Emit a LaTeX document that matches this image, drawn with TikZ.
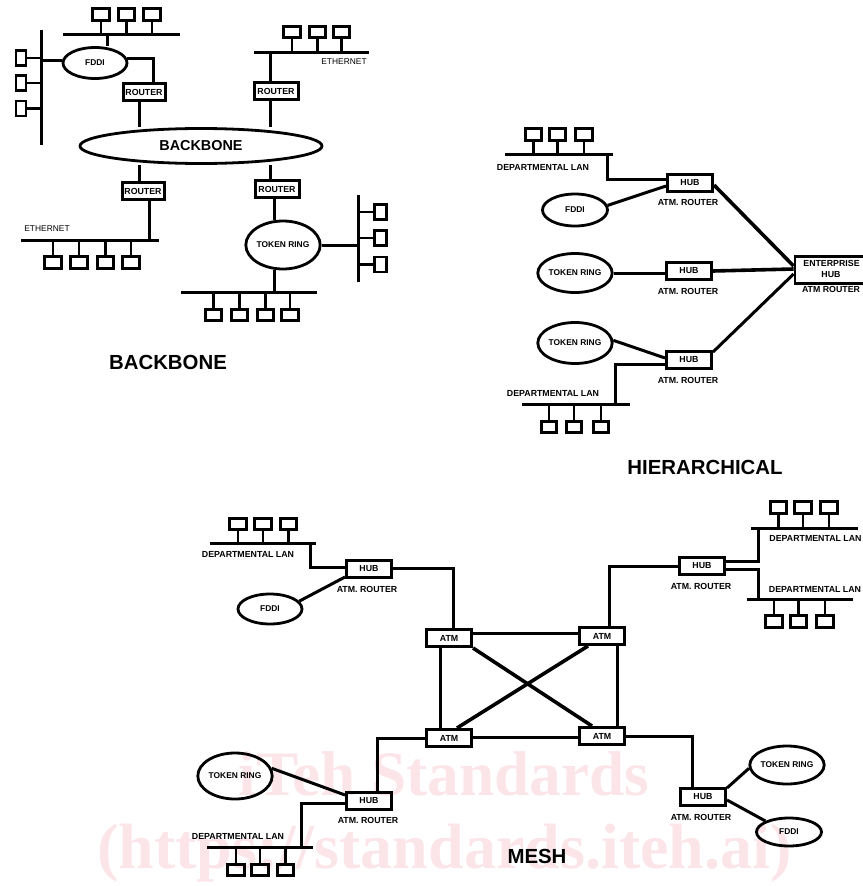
\documentclass[tikz,border=0pt]{standalone}
\usepackage{fontspec}
\setmainfont{Liberation Sans}
\newfontfamily\markfont{Liberation Serif}
\usetikzlibrary{shapes.geometric}
\definecolor{markpink}{HTML}{FBE5E9}
\tikzset{
	hostbox/.style={draw,line width=2.7pt,rectangle,inner sep=0pt,minimum width=16.5pt,minimum height=11.5pt},
	hubbox/.style={draw,line width=3pt,rectangle,inner sep=0pt,minimum width=45pt,minimum height=17pt,font=\fontsize{8.8}{8.8}\selectfont\bfseries},
	cloud/.style={draw,line width=2.8pt,ellipse,inner sep=0pt,font=\fontsize{8.4}{8.4}\selectfont\bfseries},
	bus/.style={line width=3pt},
	stem/.style={line width=2.4pt},
	conn/.style={line width=3pt},
	heavy/.style={line width=3.6pt},
	lanlabel/.style={font=\fontsize{8.8}{8.8}\selectfont\bfseries,inner sep=0pt},
	thinlabel/.style={font=\fontsize{8.4}{8.4}\selectfont,inner sep=0pt},
	title/.style={font=\fontsize{20.4}{20.4}\selectfont\bfseries,inner sep=0pt},
	wmark/.style={text=markpink,inner sep=0pt,anchor=base}
}
\begin{document}
\begin{tikzpicture}[x=1pt,y=-1pt]
	\useasboundingbox (0,0) rectangle (862,886);
	\node[wmark,font=\markfont\bfseries\fontsize{63.3}{63.3}\selectfont] (markone) at (444,795) {iTeh Standards};
	\node[wmark,font=\markfont\bfseries\fontsize{64.1}{64.1}\selectfont] (marktwo) at (444.5,868) {(https://standards.iteh.ai)};
	%
	% backbone
	\node[cloud,minimum width=242pt,minimum height=35pt,font=\fontsize{14.4}{14.4}\selectfont\bfseries] (bone) at (201,146) {BACKBONE};
	\node[hubbox,minimum width=42pt] (ra) at (144,92) {ROUTER};
	\node[hubbox,minimum width=44pt] (rb) at (276,91) {ROUTER};
	\node[hubbox,minimum width=42pt] (rc) at (143,191) {ROUTER};
	\node[hubbox,minimum width=44pt] (rd) at (277,189) {ROUTER};
	\node[cloud,minimum width=64pt,minimum height=31pt] (fddia) at (95,63) {FDDI};
	\node[cloud,minimum width=71pt,minimum height=48pt] (ringa) at (283,245) {TOKEN RING};
	%
	\coordinate (busal) at (63,34); \coordinate (busar) at (180,34);
	\coordinate (busbt) at (41,30); \coordinate (busbb) at (41,145);
	\coordinate (buscl) at (254,52); \coordinate (buscr) at (369,52);
	\coordinate (busdl) at (21,240); \coordinate (busdr) at (159,240);
	\coordinate (buset) at (358,195); \coordinate (buseb) at (358,282);
	\coordinate (busfl) at (181,292); \coordinate (busfr) at (317,292);
	\draw[bus] (busal)--(busar);
	\draw[bus] (busbt)--(busbb);
	\draw[bus] (buscl)--(buscr);
	\draw[bus] (busdl)--(busdr);
	\draw[bus] (buset)--(buseb);
	\draw[bus] (busfl)--(busfr);
	\foreach \name/\xx in {a1/101,a2/126.5,a3/152} {
		\node[hostbox] (\name) at (\xx,14.5) {};
		\draw[stem] (\name.south)--(\name.south |- busal);
	}
	\foreach \name/\yy in {b1/58,b2/83,b3/108.5} {
		\node[hostbox,minimum width=10pt,minimum height=15pt] (\name) at (21,\yy) {};
		\draw[stem] (\name.east)--(\name.east -| busbt);
	}
	\foreach \name/\xx in {c1/292,c2/317.5,c3/341.5} {
		\node[hostbox] (\name) at (\xx,32) {};
		\draw[stem] (\name.south)--(\name.south |- buscl);
	}
	\foreach \name/\xx in {d1/53,d2/79,d3/105.5,d4/131} {
		\node[hostbox] (\name) at (\xx,262.5) {};
		\draw[stem] (\name.north)--(\name.north |- busdl);
	}
	\foreach \name/\yy in {e1/212,e2/238,e3/264.5} {
		\node[hostbox,minimum width=12pt,minimum height=15pt] (\name) at (380.5,\yy) {};
		\draw[stem] (\name.west)--(\name.west -| buset);
	}
	\foreach \name/\xx in {f1/213.5,f2/239.5,f3/265.5,f4/290} {
		\node[hostbox] (\name) at (\xx,315) {};
		\draw[stem] (\name.north)--(\name.north |- busfl);
	}
	%
	\draw[conn] ([xshift=12pt]fddia.north)--([xshift=12pt]fddia.north |- busal);
	\draw[conn] (fddia.175)--(fddia.175 -| busbt);
	\draw[conn] (fddia.8)-|([xshift=9pt]ra.north);
	\draw[conn] ([xshift=-5pt]ra.south)--([xshift=-5pt]ra.south |- bone.north);
	\draw[conn] ([xshift=-6pt]rb.south)--([xshift=-6pt]rb.south |- bone.north);
	\draw[conn] ([xshift=-6pt]rb.north)--([xshift=-6pt]rb.north |- buscl);
	\draw[conn] ([xshift=-4pt]rc.north)--([xshift=-4pt]rc.north |- bone.south);
	\draw[conn] ([xshift=-7pt]rd.north)--([xshift=-7pt]rd.north |- bone.south);
	\draw[conn] ([xshift=6pt]rc.south)--([xshift=6pt]rc.south |- busdl);
	\draw[conn] ([xshift=-3pt]rd.south)--([xshift=-3pt]rd.south |- ringa.north);
	\draw[conn] (ringa.east)--(ringa.east -| buset);
	\draw[conn] ([xshift=-9pt]ringa.south)--([xshift=-9pt]ringa.south |- busfl);
	\node[thinlabel] (etha) at (344,62) {ETHERNET};
	\node[thinlabel] (ethb) at (47,229) {ETHERNET};
	\node[title] (titlea) at (168,362) {BACKBONE};
	%
	% hierarchical
	\node[hubbox] (huba) at (690,183) {HUB};
	\node[hubbox] (hubb) at (689,271) {HUB};
	\node[hubbox] (hubc) at (689,360) {HUB};
	\node[draw,line width=2.8pt,rectangle,inner sep=0pt,minimum width=80pt,minimum height=27pt] (enter) at (835,270) {};
	\node[lanlabel] (entera) at (831.5,263) {ENTERPRISE};
	\node[lanlabel] (enterb) at (831,275) {HUB};
	\node[lanlabel,fill=white] (enterc) at (831,289) {ATM ROUTER};
	\node[cloud,minimum width=65pt,minimum height=32pt] (fddib) at (575,210) {FDDI};
	\node[cloud,minimum width=74pt,minimum height=39pt] (ringb) at (575,273) {TOKEN RING};
	\node[cloud,minimum width=74pt,minimum height=41pt] (ringc) at (575,343) {TOKEN RING};
	\node[lanlabel] (atma) at (688,202) {ATM. ROUTER};
	\node[lanlabel] (atmb) at (688,291) {ATM. ROUTER};
	\node[lanlabel] (atmc) at (688,380) {ATM. ROUTER};
	\node[lanlabel] (lana) at (543,167) {DEPARTMENTAL LAN};
	\node[lanlabel] (lanb) at (553,393) {DEPARTMENTAL LAN};
	\coordinate (busgl) at (505,154); \coordinate (busgr) at (613,154);
	\coordinate (bushl) at (522,404); \coordinate (bushr) at (630,404);
	\draw[bus] (busgl)--(busgr);
	\draw[bus] (bushl)--(bushr);
	\foreach \name/\xx in {g1/533.5,g2/557.5,g3/584} {
		\node[hostbox] (\name) at (\xx,134.5) {};
		\draw[stem] (\name.south)--(\name.south |- busgl);
	}
	\foreach \name/\xx in {h1/549,h2/574,h3/601} {
		\node[hostbox,minimum width=15pt] (\name) at (\xx,427) {};
		\draw[stem] (\name.north)--(\name.north |- bushl);
	}
	\coordinate (busgd) at (607,154);
	\coordinate (bushu) at (615,404);
	\draw[conn] (busgd)|-([yshift=4pt]huba.west);
	\draw[conn] (fddib.8)--([yshift=-3pt]huba.west);
	\draw[conn] (ringb.east)--(ringb.east -| hubb.west);
	\draw[conn] (ringc.4)--([yshift=2pt]hubc.west);
	\draw[conn] ([yshift=-4pt]hubc.west)-|(bushu);
	\draw[heavy] ([yshift=-2pt]huba.east)--([yshift=4pt]enter.west);
	\draw[heavy] (hubb.east)--([yshift=1pt]enter.west);
	\draw[conn] ([yshift=8pt]hubc.east)--([yshift=-4pt]enter.west);
	\node[title] (titleb) at (705,467) {HIERARCHICAL};
	%
	% mesh
	\node[hubbox] (atmcore) at (449,638) {ATM};
	\node[hubbox] (atmcorb) at (602,636) {ATM};
	\node[hubbox] (atmcorc) at (449,738) {ATM};
	\node[hubbox] (atmcord) at (602,736) {ATM};
	\node[hubbox] (hubd) at (369,569) {HUB};
	\node[hubbox] (hube) at (702,566) {HUB};
	\node[hubbox] (hubf) at (369,801) {HUB};
	\node[hubbox] (hubg) at (703,797) {HUB};
	\node[lanlabel] (atmd) at (367,589) {ATM. ROUTER};
	\node[lanlabel] (atme) at (701,586) {ATM. ROUTER};
	\node[lanlabel] (atmf) at (368,820) {ATM. ROUTER};
	\node[lanlabel] (atmg) at (701,817) {ATM. ROUTER};
	\node[cloud,minimum width=64pt,minimum height=30pt] (fddic) at (270,609) {FDDI};
	\node[cloud,minimum width=65pt,minimum height=28pt] (fddid) at (789,832) {FDDI};
	\node[cloud,minimum width=73pt,minimum height=46pt] (ringd) at (235,776) {TOKEN RING};
	\node[cloud,minimum width=71pt,minimum height=38pt] (ringe) at (787,765) {TOKEN RING};
	\node[lanlabel] (lanc) at (248,554) {DEPARTMENTAL LAN};
	\node[lanlabel] (land) at (815.5,538) {DEPARTMENTAL LAN};
	\node[lanlabel] (lane) at (815,589) {DEPARTMENTAL LAN};
	\node[lanlabel] (lanf) at (238,836) {DEPARTMENTAL LAN};
	\coordinate (busil) at (210,543); \coordinate (busir) at (316,543);
	\coordinate (busjl) at (751,528); \coordinate (busjr) at (858,528);
	\coordinate (buskl) at (747,599); \coordinate (buskr) at (853,599);
	\coordinate (busll) at (207,847); \coordinate (buslr) at (313,847);
	\draw[bus] (busil)--(busir);
	\draw[bus] (busjl)--(busjr);
	\draw[bus] (buskl)--(buskr);
	\draw[bus] (busll)--(buslr);
	\foreach \name/\xx in {i1/238,i2/263,i3/288.5} {
		\node[hostbox] (\name) at (\xx,524) {};
		\draw[stem] (\name.south)--(\name.south |- busil);
	}
	\foreach \name/\xx in {j1/778.5,j2/803,j3/829} {
		\node[hostbox] (\name) at (\xx,507.5) {};
		\draw[stem] (\name.south)--(\name.south |- busjl);
	}
	\foreach \name/\xx in {k1/774,k2/798.5,k3/825} {
		\node[hostbox] (\name) at (\xx,621.5) {};
		\draw[stem] (\name.north)--(\name.north |- buskl);
	}
	\foreach \name/\xx in {l1/236,l2/260,l3/285.5} {
		\node[hostbox] (\name) at (\xx,870) {};
		\draw[stem] (\name.north)--(\name.north |- busll);
	}
	\coordinate (busid) at (310,543);
	\coordinate (busjd) at (758,528);
	\coordinate (busku) at (758,599);
	\coordinate (busld) at (301,847);
	\draw[conn] (busid)|-([yshift=2pt]hubd.west);
	\draw[conn] (fddic.15)--([yshift=-8pt]hubd.west);
	\draw[conn] ([yshift=1pt]hubd.east)-|([xshift=4pt]atmcore.north);
	\draw[conn] ([yshift=5pt]atmcore.east)--([yshift=3pt]atmcorb.west);
	\draw[conn] ([yshift=1pt]atmcorc.east)--([yshift=-1pt]atmcord.west);
	\draw[conn] ([xshift=-9pt]atmcore.south)--([xshift=-9pt]atmcorc.north);
	\draw[conn] ([xshift=15pt]atmcorb.south)--([xshift=15pt]atmcord.north);
	\draw[heavy] (atmcore.south east)--([xshift=-10pt]atmcord.north);
	\draw[heavy] ([xshift=8pt]atmcorc.north)--([xshift=-14pt]atmcorb.south);
	\draw[conn] ([xshift=7pt]atmcorb.north)|-(hube.west);
	\draw[conn] ([yshift=5pt]hube.east)-|(busjd);
	\draw[conn] ([yshift=-3pt]hube.east)-|(busku);
	\draw[conn] (atmcord.east)-|([xshift=-11pt]hubg.north);
	\draw[conn] ([yshift=9pt]hubg.east)--(ringe.185);
	\draw[conn] ([yshift=-3pt]hubg.east)--(fddid.155);
	\draw[conn] (atmcorc.west)-|([xshift=8pt]hubf.north);
	\draw[conn] (ringd.12)--([yshift=6pt]hubf.west);
	\draw[conn] ([yshift=-2pt]hubf.west)-|(busld);
	\node[title] (titlec) at (537,856) {MESH};
\end{tikzpicture}
\end{document}
